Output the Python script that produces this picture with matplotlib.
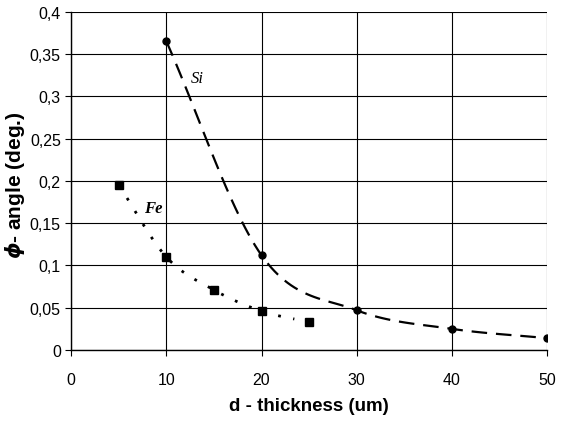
import numpy as np
import matplotlib.pyplot as plt
from matplotlib.ticker import FuncFormatter

# data
si_d = [10, 20, 30, 40, 50]
si_phi = [0.365, 0.112, 0.047, 0.025, 0.014]
fe_d = [5, 10, 15, 20, 25]
fe_phi = [0.195, 0.110, 0.071, 0.046, 0.033]

x_ticks = [0, 10, 20, 30, 40, 50]
y_ticks = [0, 0.05, 0.1, 0.15, 0.2, 0.25, 0.3, 0.35, 0.4]


def smooth(x, y, n=30):
    # Catmull-Rom curve through the points (like a smoothed line in a spreadsheet)
    x = np.asarray(x, float)
    y = np.asarray(y, float)
    px = np.concatenate([[2 * x[0] - x[1]], x, [2 * x[-1] - x[-2]]])
    py = np.concatenate([[2 * y[0] - y[1]], y, [2 * y[-1] - y[-2]]])
    xs, ys = [], []
    t = np.linspace(0, 1, n)
    for i in range(1, len(px) - 2):
        for p, out in ((px, xs), (py, ys)):
            p0, p1, p2, p3 = p[i - 1], p[i], p[i + 1], p[i + 2]
            out.extend(0.5 * ((2 * p1) + (-p0 + p2) * t
                              + (2 * p0 - 5 * p1 + 4 * p2 - p3) * t ** 2
                              + (-p0 + 3 * p1 - 3 * p2 + p3) * t ** 3))
    return np.array(xs), np.array(ys)


plt.rcParams['font.family'] = ['Liberation Sans Narrow', 'Liberation Sans', 'DejaVu Sans']

fig = plt.figure(figsize=(5.61, 4.27), dpi=100)
ax = fig.add_axes([0.127, 0.178, 0.848, 0.792])

sx, sy = smooth(si_d, si_phi)
ax.plot(sx, sy, color='black', lw=1.6, dashes=(7, 4))
ax.plot(si_d, si_phi, 'o', color='black', ms=5)

fx, fy = smooth(fe_d, fe_phi)
keep = fx <= 23.5
ax.plot(fx[keep], fy[keep], color='black', lw=2.0, dashes=(1, 4.5))
ax.plot(fe_d, fe_phi, 's', color='black', ms=5.5)

ax.text(13.3, 0.322, 'Si', family=['Liberation Serif'], style='italic',
        fontsize=12, ha='center', va='center')
ax.text(8.6, 0.168, 'Fe', family=['Liberation Serif'], style='italic',
        weight='bold', fontsize=12, ha='center', va='center')

ax.set_xlim(0, 50)
ax.set_ylim(0, 0.4)
ax.set_xticks(x_ticks)
ax.set_yticks(y_ticks)
ax.yaxis.set_major_formatter(FuncFormatter(lambda v, p: ('%g' % round(v, 2)).replace('.', ',')))
ax.grid(True, color='black', lw=0.8)
ax.set_axisbelow(True)
for s in ['top', 'right']:
    ax.spines[s].set_visible(False)
ax.spines['left'].set_linewidth(1.0)
ax.spines['bottom'].set_linewidth(1.0)
ax.tick_params(direction='out', length=4, width=0.8, labelsize=11.5)
ax.tick_params(axis='x', pad=12)

ax.set_xlabel('d - thickness (um)', fontsize=13.5, weight='bold',
              family=['Liberation Sans', 'DejaVu Sans'], labelpad=7)
ax.set_ylabel(r'$\boldsymbol{\phi}$- angle (deg.)', fontsize=15, weight='bold',
              family=['Liberation Sans', 'DejaVu Sans'], labelpad=-2)
ax.yaxis.set_label_coords(-0.092, 0.49)

fig.savefig('out.png', dpi=100)
